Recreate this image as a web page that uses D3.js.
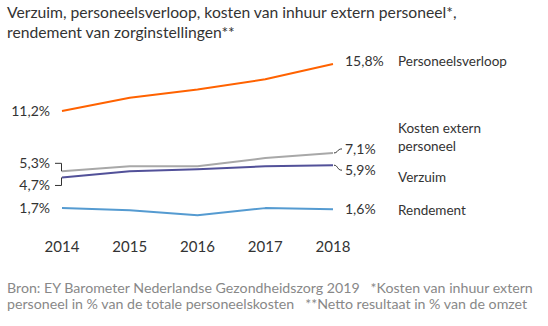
<!DOCTYPE html>
<html>
<head>
<meta charset="utf-8">
<script src="https://cdn.jsdelivr.net/npm/d3@7"></script>
<style>
  body { margin: 0; background: #fff; }
  svg text { font-family: Lato, "Open Sans", sans-serif; white-space: pre; }
</style>
</head>
<body>
<svg id="chart" width="548" height="326"></svg>
<script>
// --- Data ---
const years = [2014, 2015, 2016, 2017, 2018];
const verloop = [11.2, 12.5, 13.3, 14.3, 15.8];
const kostenExtern = [5.3, 5.8, 5.8, 6.6, 7.1];
const verzuim = [4.7, 5.3, 5.5, 5.8, 5.9];
const rendement = [1.7, 1.5, 1.0, 1.7, 1.6];

const titleLines = [
  'Verzuim, personeelsverloop, kosten van inhuur extern personeel*,',
  'rendement van zorginstellingen**'
];
const footerLines = [
  'Bron: EY Barometer Nederlandse Gezondheidszorg 2019   *Kosten van inhuur extern',
  'personeel in % van de totale personeelskosten   **Netto resultaat in % van de omzet'
];

// series: values, colour, label offsets (dy) at start and end, legend text lines
const series = [
  { values: verloop, color: '#ff6200', startDy: 0, endDy: -3, legend: ['Personeelsverloop'], legendY: [61] },
  { values: kostenExtern, color: '#a8a8a8', startDy: -8, endDy: -4, legend: ['Kosten extern', 'personeel'], legendY: [128, 146], bracket: true },
  { values: verzuim, color: '#525199', startDy: 8, endDy: 5, legend: ['Verzuim'], legendY: [177], bracket: true },
  { values: rendement, color: '#559bd1', startDy: 0, endDy: 0, legend: ['Rendement'], legendY: [210] }
];

const fmt = v => d3.format('.1f')(v).replace('.', ',') + '%';

const svg = d3.select('#chart');
const textColor = '#333';

// --- Scales ---
const x = d3.scalePoint().domain(years).range([62, 333]);
const y = d3.scaleLinear().domain([0, 15.8]).range([225.5, 64]);

// --- Title ---
svg.append('g').selectAll('text')
  .data(titleLines)
  .enter().append('text')
  .attr('x', 7)
  .attr('y', (d, i) => 18 + i * 20)
  .attr('font-size', 15.7)
  .attr('fill', textColor)
  .text(d => d);

// --- Lines ---
const line = d3.line()
  .x((d, i) => x(years[i]))
  .y(d => y(d));

series.forEach(s => {
  svg.append('path')
    .datum(s.values)
    .attr('fill', 'none')
    .attr('stroke', s.color)
    .attr('stroke-width', 2)
    .attr('stroke-linejoin', 'round')
    .attr('d', line);

  const v0 = s.values[0];
  const v1 = s.values[s.values.length - 1];
  const x0 = x(years[0]);
  const x1 = x(years[years.length - 1]);

  // start value label
  svg.append('text')
    .attr('x', 50)
    .attr('y', y(v0) + s.startDy)
    .attr('dy', '0.35em')
    .attr('text-anchor', 'end')
    .attr('font-size', 14)
    .attr('fill', textColor)
    .text(fmt(v0));

  // end value label
  svg.append('text')
    .attr('x', 345)
    .attr('y', y(v1) + s.endDy)
    .attr('dy', '0.35em')
    .attr('font-size', 14)
    .attr('fill', textColor)
    .text(fmt(v1));

  if (s.bracket) {
    // connectors from the crowded labels to the line ends
    const ys = y(v0) + s.startDy;
    svg.append('path')
      .attr('fill', 'none')
      .attr('stroke', textColor)
      .attr('stroke-width', 1)
      .attr('d', `M55,${ys}H${x0 - 0.5}V${y(v0)}`);

    const ye = y(v1) + s.endDy;
    svg.append('path')
      .attr('fill', 'none')
      .attr('stroke', textColor)
      .attr('stroke-width', 1)
      .attr('d', `M${x1 + 1},${y(v1)}C${x1 + 5},${y(v1)} ${x1 + 4},${ye} ${x1 + 9},${ye}`);
  }

  // series name
  s.legend.forEach((t, i) => {
    svg.append('text')
      .attr('x', 398)
      .attr('y', s.legendY[i])
      .attr('dy', '0.35em')
      .attr('font-size', 13.5)
      .attr('fill', textColor)
      .text(t);
  });
});

// --- X axis labels ---
svg.append('g').selectAll('text')
  .data(years)
  .enter().append('text')
  .attr('x', d => x(d))
  .attr('y', 247)
  .attr('dy', '0.35em')
  .attr('text-anchor', 'middle')
  .attr('font-size', 15)
  .attr('fill', textColor)
  .text(d => d);

// --- Footer ---
svg.append('g').selectAll('text')
  .data(footerLines)
  .enter().append('text')
  .attr('x', 7)
  .attr('y', (d, i) => 292.5 + i * 16.5)
  .attr('font-size', 14.2)
  .attr('fill', '#888')
  .text(d => d);
</script>
</body>
</html>
